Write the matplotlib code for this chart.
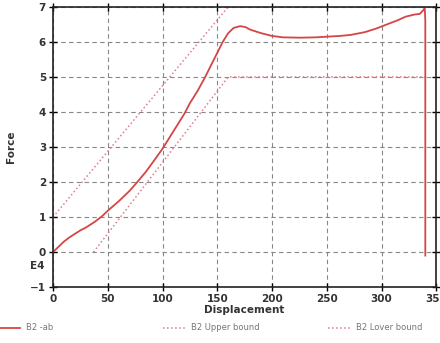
import numpy as np
import matplotlib
matplotlib.use('Agg')
import matplotlib.pyplot as plt
from matplotlib.lines import Line2D

# data
disp = [0, 5, 10, 15, 20, 25, 30, 38, 45, 50, 60, 70, 77, 85, 92, 100, 110,
        120, 125, 132, 139, 147, 155, 160, 165, 171, 176, 180, 190, 200, 210,
        225, 240, 251, 262, 272, 285, 295, 305, 315, 322, 330, 335, 338,
        339.5, 340, 340]
force = [0, 0.15, 0.3, 0.42, 0.52, 0.62, 0.7, 0.86, 1.03, 1.18, 1.45, 1.75,
         2.0, 2.3, 2.6, 2.95, 3.45, 3.95, 4.25, 4.6, 5.0, 5.5, 6.0, 6.25, 6.4,
         6.45, 6.42, 6.35, 6.25, 6.17, 6.13, 6.12, 6.13, 6.15, 6.17, 6.2,
         6.28, 6.38, 6.5, 6.62, 6.72, 6.78, 6.8, 6.9, 6.97, 6.6, -0.1]

upper_x = [0, 160, 340]
upper_y = [1, 7, 7]
lower_x = [37, 160, 340]
lower_y = [0, 5, 5]

labels = ['B2 -ab', 'B2 Upper bound', 'B2 Lover bound']
xticks = [0, 50, 100, 150, 200, 250, 300, 350]
yticks = [-1, 0, 1, 2, 3, 4, 5, 6, 7]

red = '#d64545'
pink = '#dc7f8a'

fig = plt.figure(figsize=(4.4, 3.43), dpi=100)
ax = fig.add_axes([0.1205, 0.163, 0.871, 0.817])

ax.plot(upper_x, upper_y, ':', color=pink, lw=1.1)
ax.plot(lower_x, lower_y, ':', color=pink, lw=1.1)
ax.plot(disp, force, '-', color=red, lw=1.3)

ax.set_xlim(0, 350)
ax.set_ylim(-1, 7)
ax.set_xticks(xticks)
ax.set_yticks(yticks)
ax.grid(True, color='#888888', ls=(0, (4, 3)), lw=0.8)
ax.tick_params(direction='inout', length=6, width=1, top=True, right=True,
               labelsize=7.5, labelcolor='#333333', pad=2)
for lab in ax.get_xticklabels() + ax.get_yticklabels():
    lab.set_fontweight('bold')
for s in ax.spines.values():
    s.set_linewidth(1.2)
    s.set_color('#222222')

ax.set_xlabel('Displacement', fontsize=7.5, fontweight='bold', color='#333333',
              labelpad=1)
ax.set_ylabel('Force', fontsize=7.5, fontweight='bold', color='#333333')
ax.yaxis.set_label_coords(-(53 - 16) / 383, 0.5)
fig.text(37 / 440, 1 - 266 / 343, 'E4', fontsize=7.5, fontweight='bold',
         color='#333333', ha='center', va='center')

# legend entries placed along the bottom
handles = [Line2D([], [], color=red, lw=1.3, ls='-'),
           Line2D([], [], color=pink, lw=1.1, ls=':'),
           Line2D([], [], color=pink, lw=1.1, ls=':')]
xs = [-0.012, 0.363, 0.738]
for h, lab, x in zip(handles, labels, xs):
    fig.legend([h], [lab], loc='center left', bbox_to_anchor=(x, 1 - 328 / 343),
               frameon=False, fontsize=6, labelcolor='#777777',
               handlelength=2.6, handletextpad=0.8, borderaxespad=0)

fig.savefig('out.png', dpi=100)
